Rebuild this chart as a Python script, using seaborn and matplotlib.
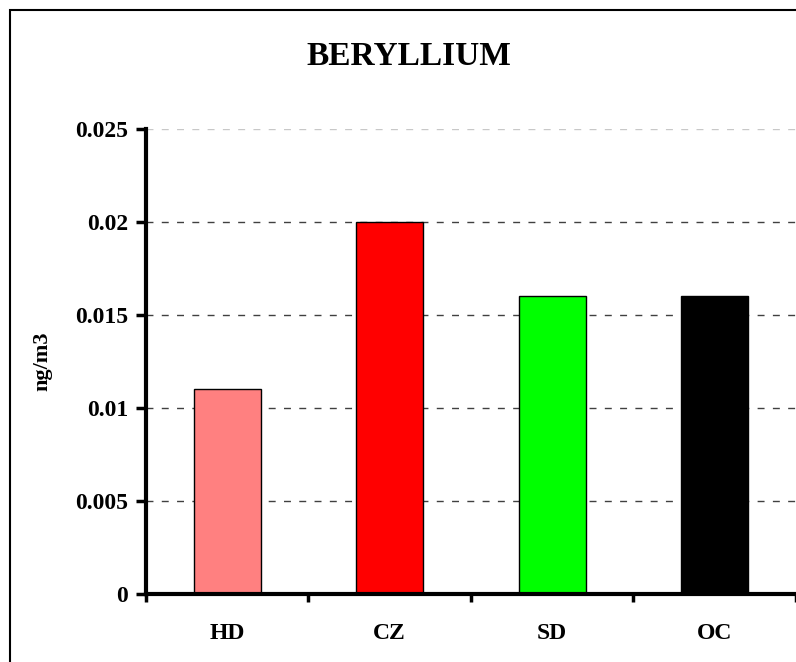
import matplotlib
matplotlib.use("Agg")
import matplotlib.pyplot as plt
import matplotlib.patches as mpatches
import pandas as pd
import seaborn as sns

# values
sites = ["HD", "CZ", "SD", "OC"]
beryllium = [0.011, 0.020, 0.016, 0.016]
bar_colors = ["#FF8080", "#FF0000", "#00FF00", "#000000"]
yticks = [0, 0.005, 0.01, 0.015, 0.02, 0.025]
ytick_labels = ["0", "0.005", "0.01", "0.015", "0.02", "0.025"]

df = pd.DataFrame({"site": sites, "value": beryllium})

sns.set_style("white")
plt.rcParams["font.family"] = ["Liberation Serif", "DejaVu Serif"]
plt.rcParams["font.weight"] = "bold"
plt.rcParams["text.color"] = "black"
plt.rcParams["axes.labelcolor"] = "black"
plt.rcParams["xtick.color"] = "black"
plt.rcParams["ytick.color"] = "black"
plt.rcParams["axes.edgecolor"] = "black"

fig = plt.figure(figsize=(7.96, 6.62), dpi=100)
ax = fig.add_axes([0.1834, 0.1027, 0.8166, 0.7025])

sns.barplot(data=df, x="site", y="value", hue="site", palette=bar_colors,
            width=0.41, edgecolor="black", linewidth=1, legend=False,
            saturation=1, ax=ax)

ax.set_ylim(0, 0.025)
ax.set_xlim(-0.5, 3.5)
ax.set_yticks(yticks)
ax.set_yticklabels(ytick_labels, fontsize=17, fontweight="bold")
ax.set_xticks(range(len(sites)))
ax.set_xticklabels(sites, fontsize=17, fontweight="bold")
ax.tick_params(axis="x", which="major", bottom=True, length=0, pad=21)
# category boundary ticks on the x axis
ax.set_xticks([-0.5, 0.5, 1.5, 2.5, 3.5], minor=True)
ax.tick_params(axis="x", which="minor", bottom=True, length=6, width=2.5,
               direction="out")
ax.tick_params(axis="y", left=True, length=7, width=2.5, direction="out", pad=6)

# dashed gridlines
for y in yticks[1:-1]:
    ax.axhline(y, color="#404040", linestyle=(0, (5, 6)), linewidth=1, zorder=0)
ax.axhline(yticks[-1], color="#c8c8c8", linestyle=(0, (5, 6)), linewidth=1, zorder=0)

for side in ["top", "right"]:
    ax.spines[side].set_visible(False)
ax.spines["left"].set_linewidth(3)
ax.spines["bottom"].set_linewidth(3)

ax.set_xlabel("")
ax.set_ylabel("ng/m3", fontsize=16, fontweight="bold", labelpad=16)

fig.text(0.514, 0.915, "BERYLLIUM", ha="center", va="center",
         fontsize=24, fontweight="bold")

# outer chart frame (cropped on the right and bottom)
frame = mpatches.Rectangle((10 / 796, -0.05), 1.0, 1 - 10 / 662 + 0.05,
                           transform=fig.transFigure, fill=False,
                           edgecolor="black", linewidth=1.5)
fig.patches.append(frame)

fig.savefig("out.png", dpi=100)
